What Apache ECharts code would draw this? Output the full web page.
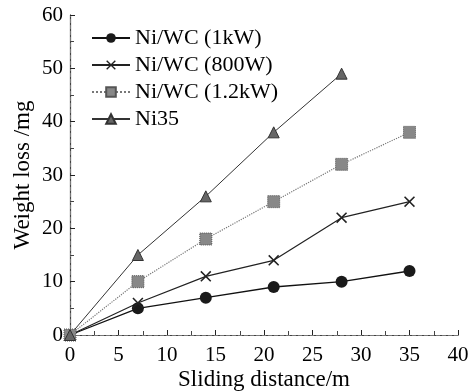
<!DOCTYPE html>
<html><head><meta charset="utf-8">
<script src="https://cdn.jsdelivr.net/npm/echarts@6/dist/echarts.min.js"></script>
<style>html,body{margin:0;padding:0;background:#fff}#c{width:471px;height:391px}</style>
</head><body><div id="c"></div>
<script>
const distance = [0, 7, 14, 21, 28, 35];
const ni35Distance = [0, 7, 14, 21, 28];
const niwc1kW = [0, 5, 7, 9, 10, 12];
const niwc800W = [0, 6, 11, 14, 22, 25];
const niwc12kW = [0, 10, 18, 25, 32, 38];
const ni35 = [0, 15, 26, 38, 49];
const names = ['Ni/WC (1kW)', 'Ni/WC (800W)', 'Ni/WC (1.2kW)', 'Ni35'];

const pairs = (xs, ys) => xs.map((x, i) => [x, ys[i]]);
const crossPath = 'path://M0,1L1,0L5,4L9,0L10,1L6,5L10,9L9,10L5,6L1,10L0,9L4,5Z';
const font = "'Liberation Serif', 'Times New Roman', serif";

const chart = echarts.init(document.getElementById('c'));
chart.setOption({
  animation: false,
  backgroundColor: '#fff',
  textStyle: {fontFamily: font, color: '#000'},
  grid: {left: 70, right: 13, top: 15, bottom: 56, outerBoundsMode: 'none', containLabel: false},
  legend: {
    left: 91, top: 27, orient: 'vertical', itemGap: 5, padding: 0,
    itemWidth: 38, itemHeight: 12,
    textStyle: {fontFamily: font, fontSize: 22, color: '#000'},
    data: names
  },
  xAxis: [{
    type: 'value', min: 0, max: 40, interval: 5,
    name: 'Sliding distance/m', nameLocation: 'middle', nameGap: 33, nameMoveOverlap: false,
    nameTextStyle: {fontFamily: font, fontSize: 23, color: '#000'},
    axisLine: {lineStyle: {color: '#222', width: 1.2}},
    axisTick: {inside: true, length: 5, lineStyle: {color: '#222'}},
    minorTick: {show: true, splitNumber: 2, length: 4, lineStyle: {color: '#444'}},
    axisLabel: {fontFamily: font, fontSize: 21, color: '#000', margin: 10},
    splitLine: {show: false}
  }, {
    type: 'value', min: 0, max: 40, position: 'top',
    axisLine: {show: true, lineStyle: {color: '#777', type: 'dashed', width: 1}},
    axisTick: {show: false}, axisLabel: {show: false}, splitLine: {show: false}
  }],
  yAxis: [{
    type: 'value', min: 0, max: 60, interval: 10,
    name: 'Weight loss /mg', nameLocation: 'middle', nameGap: 36, nameMoveOverlap: false,
    nameTextStyle: {fontFamily: font, fontSize: 23, color: '#000'},
    axisLine: {lineStyle: {color: '#222', width: 1.2}},
    axisTick: {inside: true, length: 5, lineStyle: {color: '#222'}},
    minorTick: {show: true, splitNumber: 2, length: 4, lineStyle: {color: '#444'}},
    axisLabel: {fontFamily: font, fontSize: 21, color: '#000', margin: 7},
    splitLine: {show: false}
  }, {
    type: 'value', min: 0, max: 60, position: 'right',
    axisLine: {show: true, lineStyle: {color: '#777', type: 'dashed', width: 1}},
    axisTick: {show: false}, axisLabel: {show: false}, splitLine: {show: false}
  }],
  series: [{
    name: names[0], type: 'line', data: pairs(distance, niwc1kW),
    symbol: 'circle', symbolSize: 12,
    lineStyle: {color: '#111', width: 1.3},
    itemStyle: {color: '#1a1a1a'}
  }, {
    name: names[1], type: 'line', data: pairs(distance, niwc800W),
    symbol: crossPath, symbolSize: 11,
    lineStyle: {color: '#222', width: 1.2},
    itemStyle: {color: '#222'}
  }, {
    name: names[2], type: 'line', data: pairs(distance, niwc12kW),
    symbol: 'rect', symbolSize: 12,
    lineStyle: {color: '#777', width: 1.2, type: 'dotted'},
    itemStyle: {color: '#888', borderColor: '#555', borderWidth: 1, borderType: 'dotted'}
  }, {
    name: names[3], type: 'line', data: pairs(ni35Distance, ni35),
    symbol: 'triangle', symbolSize: 11,
    lineStyle: {color: '#333', width: 1},
    itemStyle: {color: '#666', borderColor: '#333', borderWidth: 1}
  }]
});
</script></body></html>
